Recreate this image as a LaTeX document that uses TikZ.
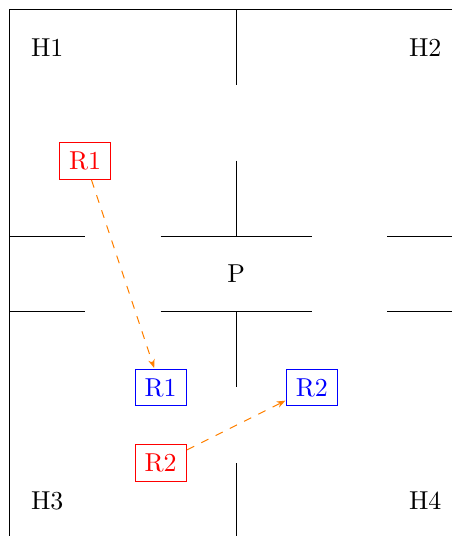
\documentclass[tikz,border=0pt]{standalone}
\usepackage{amsmath}
\usetikzlibrary{arrows.meta}

\begin{document}
\begin{tikzpicture}[
  wall/.style={draw=black, line width=0.75pt},
  room/.style={scale=1.95, inner sep=0pt},
  src/.style={scale=1.95, draw=red, text=red, line width=0.75pt, minimum width=6.9mm, minimum height=5mm, inner sep=0pt},
  dst/.style={scale=1.95, draw=blue, text=blue, line width=0.75pt, minimum width=6.9mm, minimum height=5mm, inner sep=0pt},
  arr/.style={-{Stealth[length=2.3mm]}, orange, dash pattern=on 6pt off 6pt, line width=0.75pt},
]
\useasboundingbox (-6.25, -6.93) rectangle (5.71, 7.25);

% ---------------- Outer walls ----------------
\draw[wall] (5.71, 7) -- (-6, 7) -- (-6, -6.93);

% ---------------- Middle walls ----------------
\draw[wall] (0, 7)  -- (0, 5);
\draw[wall] (0, 3)  -- (0, 1);
\draw[wall] (0, -1) -- (0, -3);
\draw[wall] (0, -5) -- (0, -6.93);

% ---------------- Corridor walls ----------------
\draw[wall] (-6, 1)  -- (-4, 1);
\draw[wall] (-2, 1)  -- (2, 1);
\draw[wall] (4, 1)   -- (5.71, 1);
\draw[wall] (-6, -1) -- (-4, -1);
\draw[wall] (-2, -1) -- (2, -1);
\draw[wall] (4, -1)  -- (5.71, -1);

% ---------------- Room labels ----------------
\node[room] (h1) at (-5, 6)  {H1};
\node[room] (h2) at (5, 6)   {H2};
\node[room] (h3) at (-5, -6) {H3};
\node[room] (h4) at (5, -6)  {H4};
\node[room] (p)  at (0, 0)   {P};

% ---------------- Robots ----------------
\node[src] (r1s) at (-4, 3)  {R1};
\node[src] (r2s) at (-2, -5) {R2};
\node[dst] (r1g) at (-2, -3) {R1};
\node[dst] (r2g) at (2, -3)  {R2};

\draw[arr] (r1s) -- (r1g);
\draw[arr] (r2s) -- (r2g);

\end{tikzpicture}
\end{document}
